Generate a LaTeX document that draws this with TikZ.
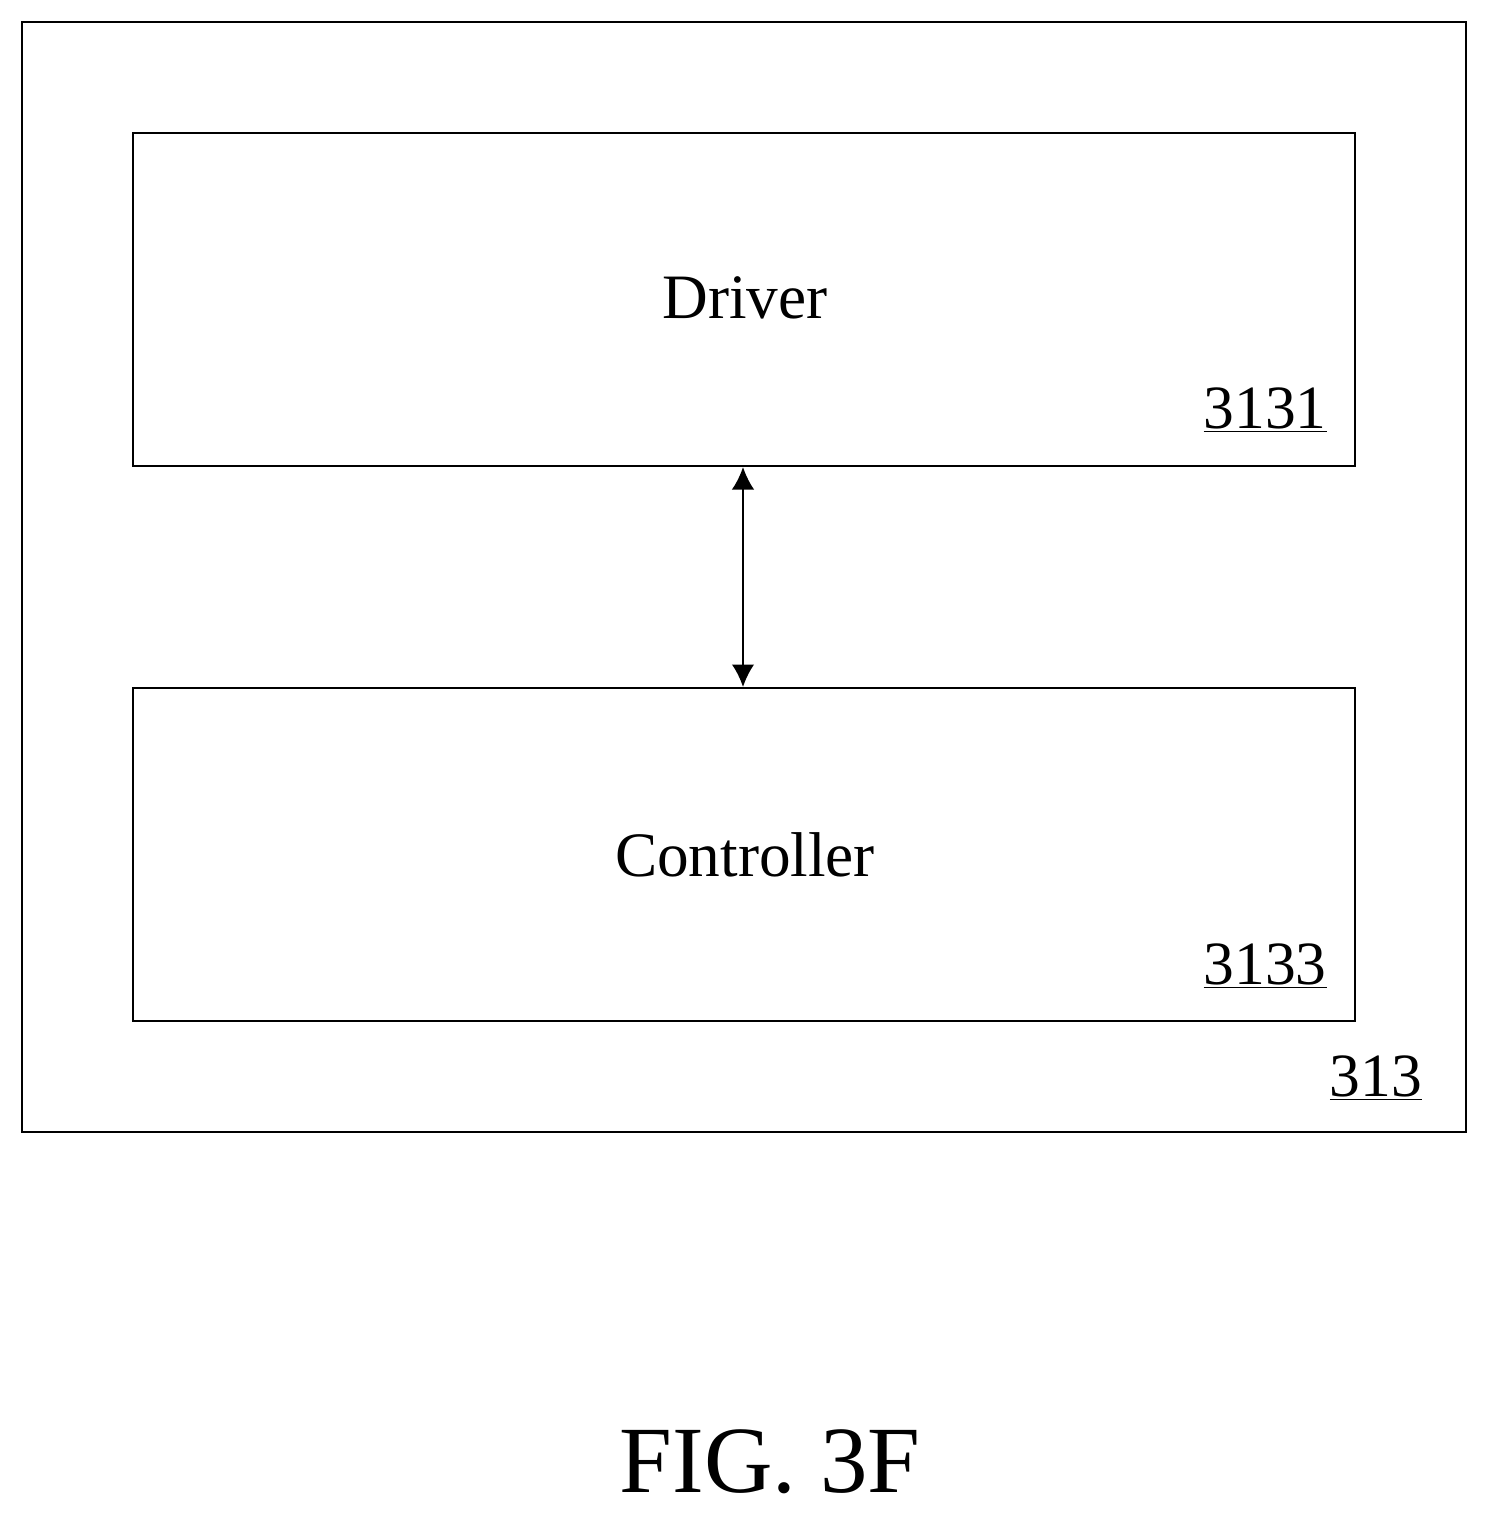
\documentclass[tikz,border=0pt]{standalone}
\usepackage{fontspec}
\setmainfont{Liberation Serif}
\usetikzlibrary{arrows.meta}
\begin{document}
\begin{tikzpicture}[x=0.02cm, y=-0.02cm,
    block/.style={draw, line width=1.2pt},
    lbl/.style={font=\fontsize{36}{42}\selectfont},
    num/.style={font=\fontsize{35}{42}\selectfont, anchor=center}]
    \useasboundingbox (0, 0) rectangle (1488, 1518);
    \draw[block] (22, 22) rectangle (1466, 1132);
    \draw[block] (133, 133) rectangle (1355, 466);
    \draw[block] (133, 688) rectangle (1355, 1021);

    \node[lbl] (driver) at (745, 298) {Driver};
    \node[lbl] (ctrl) at (745, 855) {Controller};
    \node[num] (n3131) at (1265, 410) {\underline{3131}};
    \node[num] (n3133) at (1265, 966) {\underline{3133}};
    \node[num] (n313) at (1376, 1078) {\underline{313}};
    \node[font=\fontsize{54}{62}\selectfont] (fig) at (770, 1462) {FIG. 3F};

    \coordinate (top) at (743, 467);
    \coordinate (bot) at (743, 687);
    \draw[{Latex[length=0.45cm,width=0.45cm]}-{Latex[length=0.45cm,width=0.45cm]}, line width=1.2pt] (top) -- (bot);
\end{tikzpicture}
\end{document}
